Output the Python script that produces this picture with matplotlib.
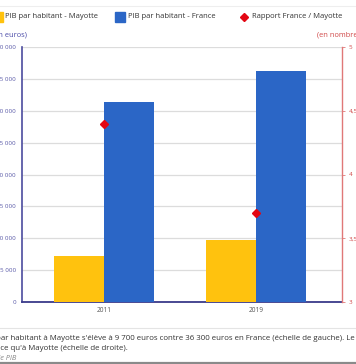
import numpy as np
import matplotlib
matplotlib.use("Agg")
import matplotlib.pyplot as plt
from matplotlib.patches import Rectangle
from matplotlib.lines import Line2D
from matplotlib.ticker import FixedLocator, FuncFormatter

# ---- data ----
years = ["2011", "2019"]
pib_mayotte = [7200, 9700]
pib_france = [31400, 36300]
rapport = [4.4, 3.7]
series_names = ["PIB par habitant - Mayotte", "PIB par habitant - France", "Rapport France / Mayotte"]
left_ticks = [0, 5000, 10000, 15000, 20000, 25000, 30000, 35000, 40000]
right_ticks = [3, 3.5, 4, 4.5, 5]
right_minor = [3.25, 3.75, 4.25, 4.75]
left_title = "(en euros)"
right_title = "(en nombre)"
caption1 = "par habitant à Mayotte s'élève à 9 700 euros contre 36 300 euros en France (échelle de gauche). Le PIB par habitant"
caption2 = "France qu'à Mayotte (échelle de droite)."
caption3 = "de PIB"

YELLOW = "#FFC20E"
BLUE = "#2B66C6"
RED = "#E30613"

plt.rcParams['font.family'] = ['Open Sans', 'DejaVu Sans']

W, H = 356, 364
fig = plt.figure(figsize=(W / 100, H / 100), dpi=100)

def fx(px):
    return px / W

def fy(py):
    return 1 - py / H

ax = fig.add_axes([fx(22), fy(302), 320 / W, 255 / H])
x = np.arange(len(years))
bw = 0.33
ax.bar(x - bw / 2, pib_mayotte, bw, color=YELLOW, zorder=3)
ax.bar(x + bw / 2, pib_france, bw, color=BLUE, zorder=3)
ax.set_xlim(-0.54, 1.566)
ax.set_ylim(0, 40000)
ax.yaxis.set_major_locator(FixedLocator(left_ticks))
ax.yaxis.set_major_formatter(FuncFormatter(lambda v, p: f"{int(v):,}".replace(",", " ")))
ax.set_xticks(x)
ax.set_xticklabels(years)
ax.yaxis.grid(True, color="#dcdcdc", lw=0.9, zorder=0)
ax.set_axisbelow(True)
for s in ["top", "right"]:
    ax.spines[s].set_visible(False)
ax.spines["left"].set_color("#4B4B9E")
ax.spines["left"].set_linewidth(1.2)
ax.spines["bottom"].set_color("#3A3A8A")
ax.spines["bottom"].set_linewidth(1.3)
ax.tick_params(axis="y", length=0, pad=4.3, labelsize=4.5, labelcolor="#5A5AA8")
ax.tick_params(axis="x", length=0, pad=3.5, labelsize=4.7, labelcolor="#555555")

ax2 = ax.twinx()
ax2.set_ylim(3, 5)
ax2.plot(x, rapport, linestyle="none", marker="D", color=RED, ms=4.2, zorder=5)
ax2.yaxis.set_major_locator(FixedLocator(right_ticks))
ax2.yaxis.set_minor_locator(FixedLocator(right_minor))
ax2.yaxis.set_major_formatter(FuncFormatter(lambda v, p: f"{v:g}".replace(".", ",")))
for s in ["top", "left", "bottom"]:
    ax2.spines[s].set_visible(False)
ax2.spines["right"].set_color("#E07878")
ax2.spines["right"].set_linewidth(1.0)
ax2.tick_params(axis="y", which="major", length=2, width=0.6, color="#E07878",
                pad=3, labelsize=4.5, labelcolor="#D04848")
ax2.tick_params(axis="y", which="minor", length=0)

# axis titles
fig.text(fx(27), fy(35), left_title, ha="right", va="center", fontsize=5.4, color="#4B4BA8")
fig.text(fx(317), fy(35), right_title, ha="left", va="center", fontsize=5.4, color="#D04848")

# legend
leg_y = 17
fig.patches.append(Rectangle((fx(-7), fy(leg_y + 5)), 10 / W, 10 / H, transform=fig.transFigure,
                             color=YELLOW, figure=fig))
fig.text(fx(5), fy(leg_y), series_names[0], ha="left", va="center", fontsize=5.5, color="#333333")
fig.patches.append(Rectangle((fx(115), fy(leg_y + 5)), 10 / W, 10 / H, transform=fig.transFigure,
                             color=BLUE, figure=fig))
fig.text(fx(128), fy(leg_y), series_names[1], ha="left", va="center", fontsize=5.5, color="#333333")
fig.add_artist(Line2D([fx(244)], [fy(leg_y)], marker="D", color=RED, ms=4.2,
                      linestyle="none", transform=fig.transFigure))
fig.text(fx(252), fy(leg_y), series_names[2], ha="left", va="center", fontsize=5.5, color="#333333")

# decorative lines
fig.add_artist(Line2D([0, 1], [fy(6), fy(6)], color="#eeeeee", lw=0.8, transform=fig.transFigure))
fig.add_artist(Line2D([0, 1], [fy(328), fy(328)], color="#e4e4e4", lw=0.8, transform=fig.transFigure))
fig.add_artist(Line2D([0, 1], [fy(363), fy(363)], color="#8a8a8a", lw=1.6, transform=fig.transFigure))

# caption
fig.text(fx(-3.8), fy(338), caption1, ha="left", va="center", fontsize=5.65, color="#333333")
fig.text(fx(-16.5), fy(348), caption2, ha="left", va="center", fontsize=5.65, color="#333333")
fig.text(fx(-4.3), fy(358), caption3, ha="left", va="center", fontsize=5.3, color="#888888",
         style="italic")

fig.savefig("out.png", dpi=100)
